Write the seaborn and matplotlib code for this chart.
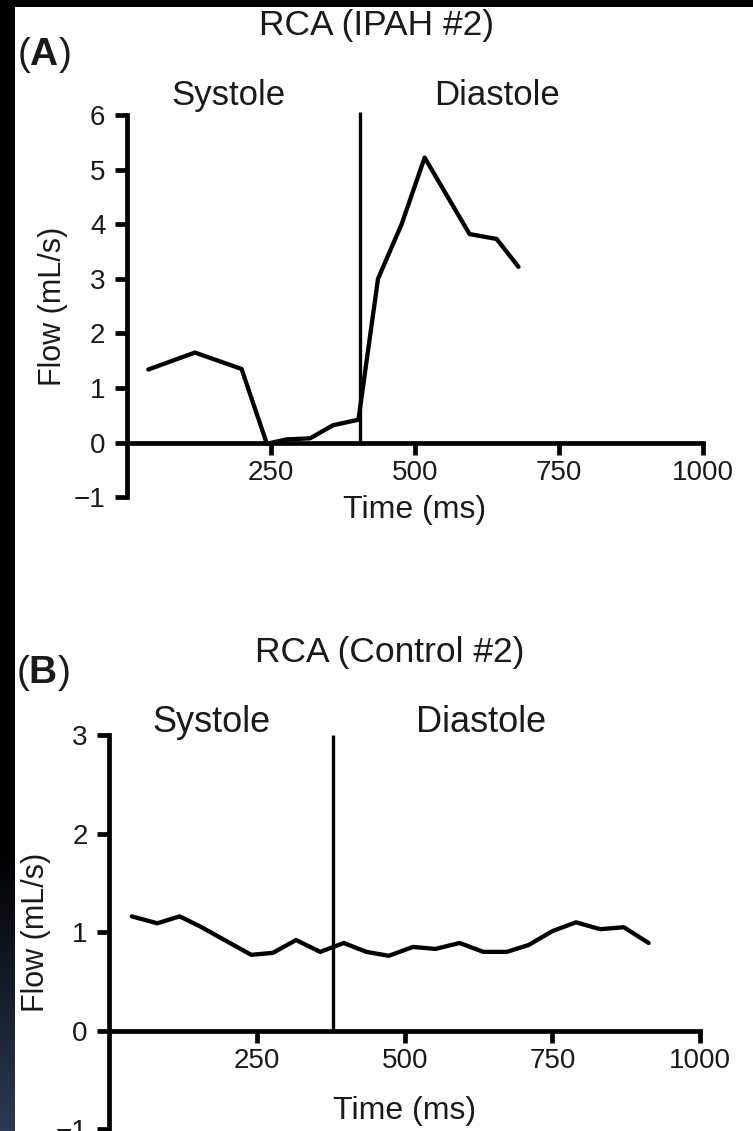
import matplotlib
matplotlib.use("Agg")
import matplotlib.pyplot as plt
import numpy as np
import seaborn as sns
from matplotlib.patches import Rectangle

# panel A: RCA (IPAH #2)
A_TIME = [37, 118, 199, 243, 277, 318, 358, 402, 436, 477, 517, 595, 642, 680]
A_FLOW = [1.34, 1.65, 1.35, -0.02, 0.06, 0.08, 0.32, 0.42, 3.00, 4.00, 5.22, 3.82, 3.73, 3.22]
A_DIVIDER = 405

# panel B: RCA (Control #2)
B_TIME = [38, 81, 119, 153, 198, 240, 277, 316, 357, 397, 435, 473, 514, 552,
          593, 633, 673, 710, 750, 790, 831, 871, 913]
B_FLOW = [1.16, 1.09, 1.16, 1.06, 0.91, 0.77, 0.79, 0.92, 0.80, 0.89, 0.80, 0.76,
          0.85, 0.83, 0.89, 0.80, 0.80, 0.87, 1.01, 1.10, 1.03, 1.05, 0.89]
B_DIVIDER = 379

X_TICKS = [250, 500, 750, 1000]

W, H = 753, 1131

sns.set_theme(style="ticks")
plt.rcParams["font.family"] = ["Liberation Sans", "DejaVu Sans"]
plt.rcParams["mathtext.fontset"] = "custom"
plt.rcParams["mathtext.rm"] = "Liberation Sans"
plt.rcParams["mathtext.bf"] = "Liberation Sans:bold"

fig = plt.figure(figsize=(W / 100, H / 100), dpi=100)
fig.patch.set_facecolor("white")

# dark frame on top / left edge
bg = fig.add_axes([0, 0, 1, 1], zorder=-10)
bg.set_xlim(0, W)
bg.set_ylim(H, 0)
bg.axis("off")
bg.add_patch(Rectangle((0, 0), W, 7, color="black", lw=0))
rows = np.zeros((H, 1, 3))
ramp = np.clip((np.arange(H) - 850) / (H - 850), 0, 1)
rows[:, 0, :] = ramp[:, None] * np.array([44, 58, 85]) / 255
bg.imshow(rows, extent=[0, 15, H, 0], aspect="auto", interpolation="bilinear")


def px_axes(x0, x1, y_top, y_bot):
    return fig.add_axes([x0 / W, 1 - y_bot / H, (x1 - x0) / W, (y_bot - y_top) / H])


def style(ax, ylim, yticks):
    ax.set_xlim(0, 1000)
    ax.set_ylim(*ylim)
    ax.set_facecolor("none")
    ax.spines[["top", "right"]].set_visible(False)
    ax.spines["bottom"].set_position(("data", 0))
    for s in ("left", "bottom"):
        ax.spines[s].set_linewidth(3.4)
        ax.spines[s].set_color("black")
    ax.set_xticks(X_TICKS)
    ax.set_yticks(yticks)
    ax.set_yticklabels(["\u22121" if t < 0 else str(t) for t in yticks])
    ax.tick_params(axis="both", direction="out", length=8.5, width=3.4,
                   color="black", labelsize=20, labelcolor="#1a1a1a")
    ax.tick_params(axis="x", pad=4)
    ax.tick_params(axis="y", pad=7)


# ---- panel A ----
axA = px_axes(127, 702.7, 115, 497.3)
sns.lineplot(x=A_TIME, y=A_FLOW, ax=axA, color="black", linewidth=3.1, sort=False)
axA.vlines(A_DIVIDER, 0, 6.05, color="black", linewidth=2.4, clip_on=False)
style(axA, (-1, 6), list(range(-1, 7)))
axA.set_xlabel("Time (ms)", fontsize=23, color="#1a1a1a")
axA.set_ylabel("Flow (mL/s)", fontsize=22, color="#1a1a1a")
axA.xaxis.set_label_coords(0.5, 0.006)
axA.yaxis.set_label_coords(-0.102, 0.5)
axA.text(177, 6.18, "Systole", ha="center", va="baseline", fontsize=25,
         color="#1a1a1a", clip_on=False)
axA.text(643, 6.18, "Diastole", ha="center", va="baseline", fontsize=25,
         color="#1a1a1a", clip_on=False)

# ---- panel B ----
axB = px_axes(109.4, 700, 735, 1129.3)
sns.lineplot(x=B_TIME, y=B_FLOW, ax=axB, color="black", linewidth=3.1, sort=False)
axB.vlines(B_DIVIDER, 0, 3.0, color="black", linewidth=2.4, clip_on=False)
style(axB, (-1, 3), list(range(-1, 4)))
axB.set_xlabel("Time (ms)", fontsize=23, color="#1a1a1a")
axB.set_ylabel("Flow (mL/s)", fontsize=22, color="#1a1a1a")
axB.xaxis.set_label_coords(0.5, 0.084)
axB.yaxis.set_label_coords(-0.099, 0.5)
axB.text(173, 3.03, "Systole", ha="center", va="baseline", fontsize=26,
         color="#1a1a1a", clip_on=False)
axB.text(629, 3.03, "Diastole", ha="center", va="baseline", fontsize=26,
         color="#1a1a1a", clip_on=False)

# titles and panel letters
fig.text(377 / W, 1 - 35 / H, "RCA (IPAH #2)", ha="center", va="baseline",
         fontsize=25.5, color="#1a1a1a")
fig.text(389.5 / W, 1 - 662 / H, "RCA (Control #2)", ha="center", va="baseline",
         fontsize=25.5, color="#1a1a1a")
fig.text(17 / W, 1 - 65 / H, r"($\mathbf{A}$)", ha="left", va="baseline",
         fontsize=28, color="#1a1a1a")
fig.text(16 / W, 1 - 683 / H, r"($\mathbf{B}$)", ha="left", va="baseline",
         fontsize=28, color="#1a1a1a")

fig.savefig("out.png", dpi=100)
